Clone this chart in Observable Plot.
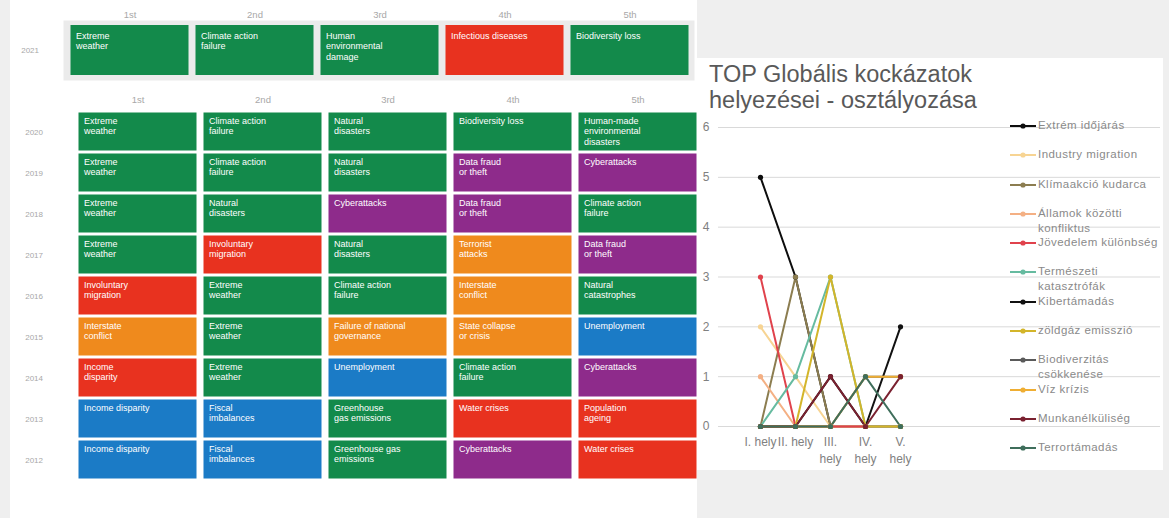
<!DOCTYPE html>
<html>
<head>
<meta charset="utf-8">
<script src="https://cdn.jsdelivr.net/npm/d3@7"></script>
<script src="https://cdn.jsdelivr.net/npm/@observablehq/plot@0.6"></script>
<style>
  body { margin: 0; background: #efefef; font-family: "Liberation Sans", Arial, sans-serif; }
  #wrap { position: relative; width: 1169px; height: 518px; overflow: hidden; background: #efefef; }
  #leftPanel { position: absolute; left: 10px; top: 0; width: 687px; height: 518px; background: #fff; }
  #rightPanel { position: absolute; left: 697px; top: 58px; width: 466px; height: 412px; background: #fff; }
  .layer { position: absolute; }
  .layer svg { display: block; overflow: visible; }
  #title { position: absolute; left: 709px; top: 61px; font-size: 23.5px; line-height: 26px; color: #595959; }
  #legend { position: absolute; left: 1010px; top: 111px; width: 155px; }
  .entry { height: 29.3px; position: relative; }
  .entry svg { position: absolute; left: 0; top: 11px; }
  .entry span { position: absolute; left: 28px; top: 7px; width: 126px; font-size: 11.5px; line-height: 15px; color: #8a8a8a; letter-spacing: 0.45px; }
</style>
</head>
<body>
<div id="wrap">
  <div id="leftPanel"></div>
  <div id="rightPanel"></div>
  <div class="layer" id="latestGrid" style="left:0;top:0"></div>
  <div class="layer" id="historyGrid" style="left:0;top:0"></div>
  <div class="layer" id="lineChart" style="left:697px;top:0"></div>
  <div id="title">TOP Globális kockázatok<br>helyezései - osztályozása</div>
  <div id="legend"></div>
</div>
<script>
// ---- Global risk rankings by year (WEF Top 5 by likelihood) ----
const ranks = ["1st", "2nd", "3rd", "4th", "5th"];
const riskTypes = ["environmental", "societal", "geopolitical", "technological", "economic"];
const riskTypeColors = ["#138a4b", "#e8321f", "#ef8a1d", "#8e2b8b", "#1b7bc6"];

const latestYear = "2021";
const risks2021 = ["Extreme\nweather", "Climate action\nfailure", "Human\nenvironmental\ndamage", "Infectious diseases", "Biodiversity loss"];
const types2021 = ["environmental", "environmental", "environmental", "societal", "environmental"];

const historyYears = ["2020", "2019", "2018", "2017", "2016", "2015", "2014", "2013", "2012"];
const risks2020 = ["Extreme\nweather", "Climate action\nfailure", "Natural\ndisasters", "Biodiversity loss", "Human-made\nenvironmental\ndisasters"];
const types2020 = ["environmental", "environmental", "environmental", "environmental", "environmental"];
const risks2019 = ["Extreme\nweather", "Climate action\nfailure", "Natural\ndisasters", "Data fraud\nor theft", "Cyberattacks"];
const types2019 = ["environmental", "environmental", "environmental", "technological", "technological"];
const risks2018 = ["Extreme\nweather", "Natural\ndisasters", "Cyberattacks", "Data fraud\nor theft", "Climate action\nfailure"];
const types2018 = ["environmental", "environmental", "technological", "technological", "environmental"];
const risks2017 = ["Extreme\nweather", "Involuntary\nmigration", "Natural\ndisasters", "Terrorist\nattacks", "Data fraud\nor theft"];
const types2017 = ["environmental", "societal", "environmental", "geopolitical", "technological"];
const risks2016 = ["Involuntary\nmigration", "Extreme\nweather", "Climate action\nfailure", "Interstate\nconflict", "Natural\ncatastrophes"];
const types2016 = ["societal", "environmental", "environmental", "geopolitical", "environmental"];
const risks2015 = ["Interstate\nconflict", "Extreme\nweather", "Failure of national\ngovernance", "State collapse\nor crisis", "Unemployment"];
const types2015 = ["geopolitical", "environmental", "geopolitical", "geopolitical", "economic"];
const risks2014 = ["Income\ndisparity", "Extreme\nweather", "Unemployment", "Climate action\nfailure", "Cyberattacks"];
const types2014 = ["societal", "environmental", "economic", "environmental", "technological"];
const risks2013 = ["Income disparity", "Fiscal\nimbalances", "Greenhouse\ngas emissions", "Water crises", "Population\nageing"];
const types2013 = ["economic", "economic", "environmental", "societal", "societal"];
const risks2012 = ["Income disparity", "Fiscal\nimbalances", "Greenhouse gas\nemissions", "Cyberattacks", "Water crises"];
const types2012 = ["economic", "economic", "environmental", "technological", "societal"];

const historyRisks = [risks2020, risks2019, risks2018, risks2017, risks2016, risks2015, risks2014, risks2013, risks2012];
const historyTypes = [types2020, types2019, types2018, types2017, types2016, types2015, types2014, types2013, types2012];

// ---- How often each risk reached each place ----
const places = ["I. hely", "II. hely", "III. hely", "IV. hely", "V. hely"];
const placeTickLabels = ["I. hely", "II. hely", "III.\nhely", "IV.\nhely", "V.\nhely"];
const seriesNames = [
  "Extrém időjárás", "Industry migration", "Klímaakció kudarca", "Államok közötti konfliktus",
  "Jövedelem különbség", "Természeti katasztrófák", "Kibertámadás", "zöldgáz emisszió",
  "Biodiverzitás csökkenése", "Víz krízis", "Munkanélküliség", "Terrortámadás"
];
const seriesColors = [
  "#0d0d0d", "#f7d493", "#8c7d50", "#f4b084",
  "#e0424c", "#66bba0", "#111111", "#d3b52a",
  "#5a5a5a", "#efae33", "#7a2130", "#3f6e5b"
];
const extremeWeather = [5, 3, 0, 0, 0];
const industryMigration = [2, 1, 0, 0, 0];
const climateFailure = [0, 3, 0, 0, 0];
const interstateConflict = [1, 0, 0, 0, 0];
const incomeDisparity = [3, 0, 0, 0, 0];
const naturalDisasters = [0, 1, 3, 0, 0];
const cyberattacks = [0, 0, 1, 0, 2];
const greenhouseGas = [0, 0, 3, 0, 0];
const biodiversityLoss = [0, 0, 0, 1, 1];
const waterCrises = [0, 0, 0, 1, 1];
const unemployment = [0, 0, 1, 0, 1];
const terroristAttacks = [0, 0, 0, 1, 0];
const seriesValues = [
  extremeWeather, industryMigration, climateFailure, interstateConflict,
  incomeDisparity, naturalDisasters, cyberattacks, greenhouseGas,
  biodiversityLoss, waterCrises, unemployment, terroristAttacks
];
const yTicks = [0, 1, 2, 3, 4, 5, 6];

// ---- Tables ----
const latestCells = ranks.map((rank, j) => ({year: latestYear, rank, risk: risks2021[j], type: types2021[j]}));
const historyCells = historyYears.flatMap((year, i) =>
  ranks.map((rank, j) => ({year, rank, risk: historyRisks[i][j], type: historyTypes[i][j]}))
);
const points = seriesNames.flatMap((series, s) =>
  places.map((place, k) => ({series, place, value: seriesValues[s][k]}))
);

const colorScale = {domain: riskTypes, range: riskTypeColors};
const cellText = {fill: "white", fontSize: 9, textAnchor: "start", lineAnchor: "top", lineHeight: 1.15};

// ---- 2021 row ----
const latestPlot = Plot.plot({
  width: 697, height: 82,
  marginLeft: 66.5, marginRight: 5.5, marginTop: 25, marginBottom: 7,
  style: {fontFamily: "Liberation Sans, Arial, sans-serif", color: "#a8a8a8", background: "transparent"},
  x: {domain: ranks, padding: 0, axis: null},
  y: {domain: [latestYear], padding: 0, axis: null},
  color: colorScale,
  marks: [
    Plot.frame({fill: "#ebebeb", stroke: null, insetLeft: -3.5, insetRight: -2.5, insetTop: -5, insetBottom: -5}),
    Plot.axisX({anchor: "top", tickSize: 0, tickPadding: 8, fontSize: 9.5, label: null}),
    Plot.axisY({anchor: "left", tickSize: 0, tickPadding: 28, fontSize: 8, label: null}),
    Plot.cell(latestCells, {x: "rank", y: "year", fill: "type", insetLeft: 3.5, insetRight: 3.5, insetTop: 0, insetBottom: 0}),
    Plot.text(latestCells, {x: "rank", y: "year", text: "risk", dx: -54, dy: -19, ...cellText})
  ]
});
document.getElementById("latestGrid").append(latestPlot);

// ---- 2012–2020 rows ----
const historyPlot = Plot.plot({
  width: 700, height: 490,
  marginLeft: 74.5, marginRight: 0.5, marginTop: 108.5, marginBottom: 8,
  style: {fontFamily: "Liberation Sans, Arial, sans-serif", color: "#a8a8a8", background: "transparent"},
  x: {domain: ranks, padding: 0, axis: null},
  y: {domain: historyYears, padding: 0, axis: null},
  color: colorScale,
  marks: [
    Plot.axisX({anchor: "top", tickSize: 0, tickPadding: 6, fontSize: 9.5, label: null}),
    Plot.axisY({anchor: "left", tickSize: 0, tickPadding: 32, fontSize: 8, label: null}),
    Plot.cell(historyCells, {x: "rank", y: "year", fill: "type", inset: 3.5, insetTop: 1.5, insetBottom: 1.5}),
    Plot.text(historyCells, {x: "rank", y: "year", text: "risk", dx: -54, dy: -15.5, ...cellText})
  ]
});
document.getElementById("historyGrid").append(historyPlot);

// ---- Ranking frequency line chart ----
const lineChart = Plot.plot({
  width: 466, height: 470,
  marginLeft: 21, marginRight: 3, marginTop: 127, marginBottom: 44,
  style: {fontFamily: "Liberation Sans, Arial, sans-serif", color: "#808080", background: "transparent"},
  x: {type: "point", domain: places, range: [44, 222], axis: null},
  y: {domain: [0, 6], axis: null},
  color: {domain: seriesNames, range: seriesColors},
  marks: [
    Plot.gridY(yTicks, {stroke: "#d9d9d9", strokeOpacity: 1}),
    Plot.axisY(yTicks, {tickSize: 0, tickPadding: 9, fontSize: 12, label: null, tickFormat: "d"}),
    Plot.axisX({anchor: "bottom", tickSize: 0, tickPadding: 7, fontSize: 12, lineHeight: 1.45, label: null,
      tickFormat: (d) => placeTickLabels[places.indexOf(d)]}),
    Plot.line(points, {x: "place", y: "value", z: "series", stroke: "series", strokeWidth: 2}),
    Plot.dot(points, {x: "place", y: "value", fill: "series", r: 2.6})
  ]
});
document.getElementById("lineChart").append(lineChart);

// ---- Legend ----
const legend = d3.select("#legend");
seriesNames.forEach((name, i) => {
  const entry = legend.append("div").attr("class", "entry");
  const sw = entry.append("svg").attr("width", 26).attr("height", 8);
  sw.append("line").attr("x1", 0).attr("x2", 26).attr("y1", 4).attr("y2", 4)
    .attr("stroke", seriesColors[i]).attr("stroke-width", 2);
  sw.append("circle").attr("cx", 13).attr("cy", 4).attr("r", 2.6).attr("fill", seriesColors[i]);
  entry.append("span").text(name);
});
</script>
</body>
</html>
